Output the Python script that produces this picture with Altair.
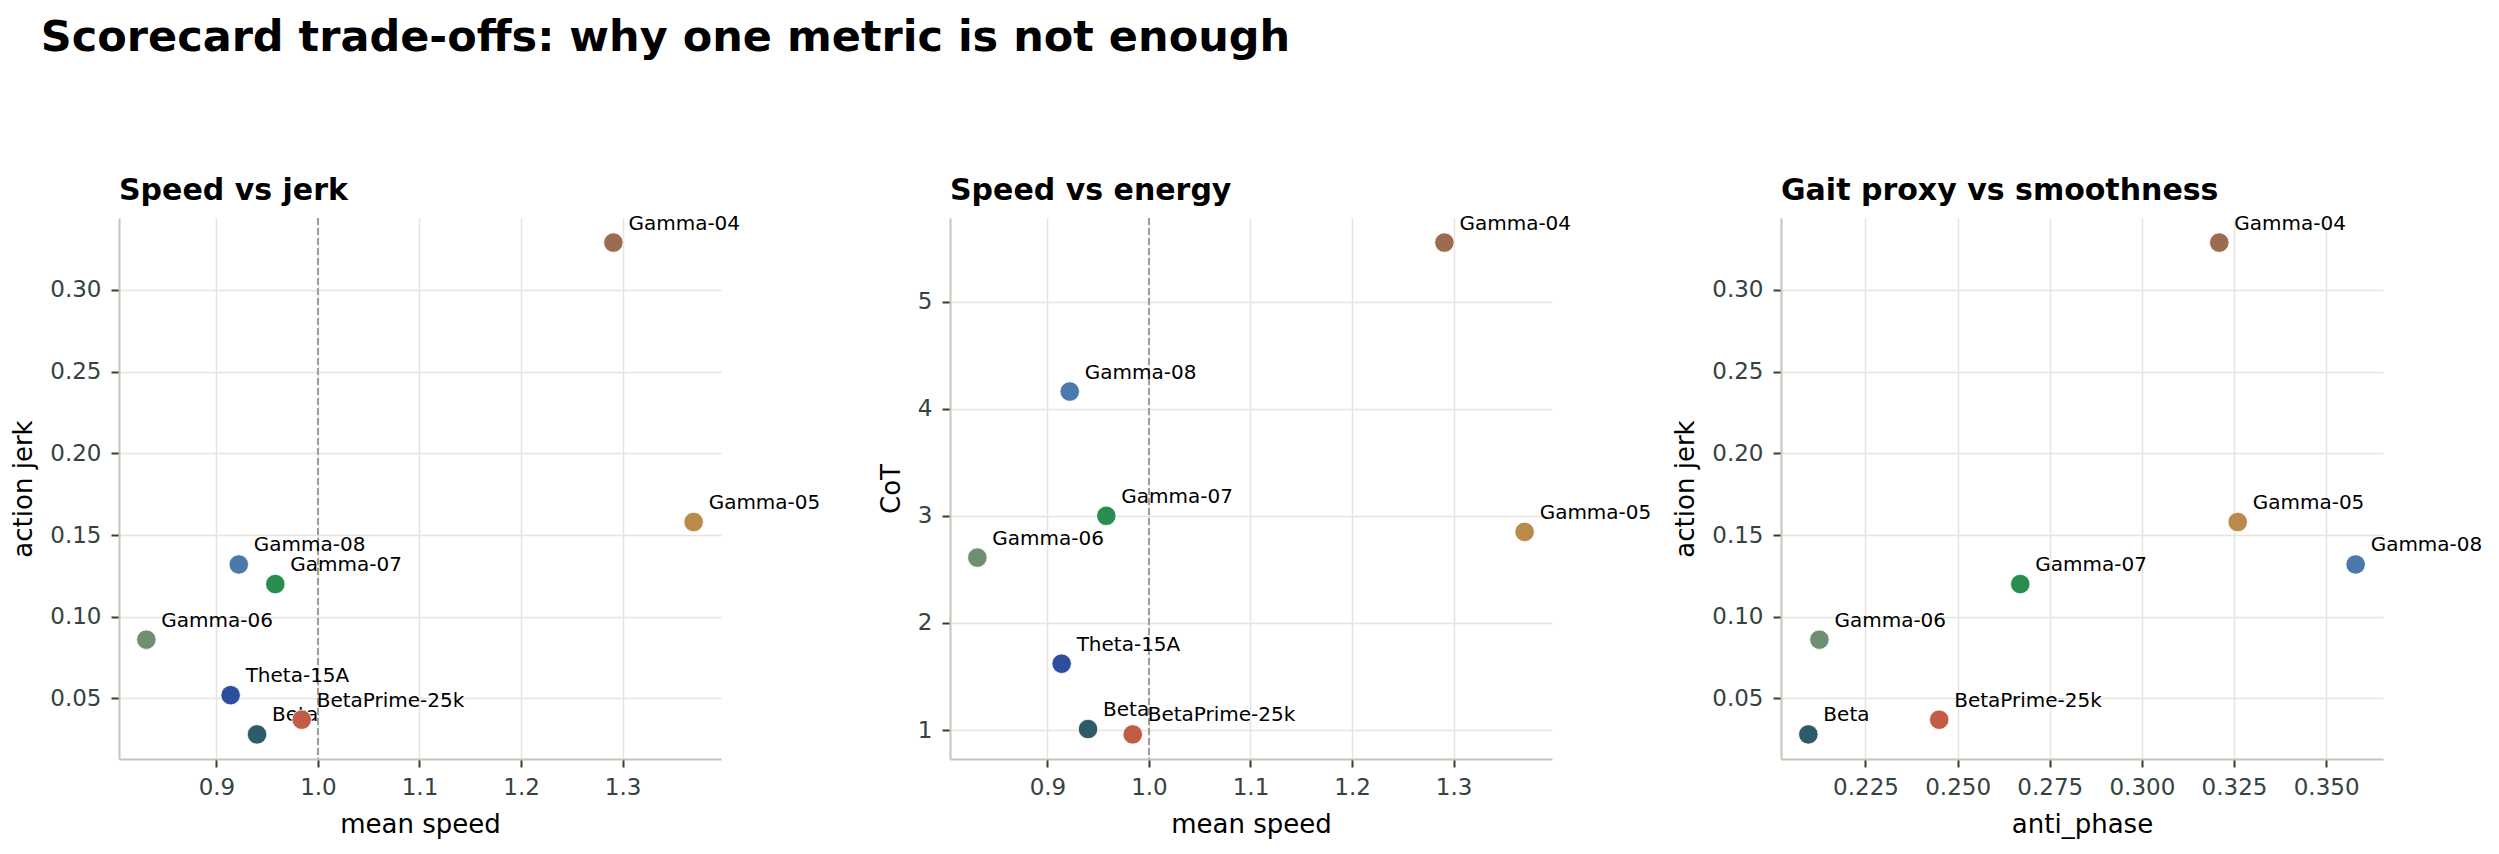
import altair as alt
import pandas as pd

# Per-policy scorecard metrics
names = ["Gamma-04", "Gamma-05", "Gamma-08", "Gamma-07", "Gamma-06",
         "Theta-15A", "BetaPrime-25k", "Beta"]
mean_speed = [1.291, 1.370, 0.922, 0.958, 0.831, 0.914, 0.984, 0.940]
action_jerk = [0.329, 0.158, 0.132, 0.120, 0.086, 0.052, 0.037, 0.028]
cot = [5.55, 2.85, 4.16, 3.00, 2.61, 1.62, 0.96, 1.01]
anti_phase = [0.321, 0.326, 0.358, 0.267, 0.2125, None, 0.245, 0.2095]
colors = ["#9b6b52", "#b98a4a", "#4b79a9", "#2b8c50", "#6f8e72",
          "#2c4e9d", "#c05c47", "#2d5b69"]

df = pd.DataFrame({
    "name": names,
    "mean_speed": mean_speed,
    "action_jerk": action_jerk,
    "CoT": cot,
    "anti_phase": anti_phase,
})

FONT = "DejaVu Sans"
PW, PH = 602, 541


def padded(vals, frac=0.05):
    v = [a for a in vals if a is not None]
    lo, hi = min(v), max(v)
    m = (hi - lo) * frac
    return [lo - m, hi + m]


def panel(title, xf, xtitle, xvals, xticks, xfmt, yf, ytitle, yvals, yticks, yfmt, ref=None):
    x = alt.X(f"{xf}:Q", title=xtitle,
              scale=alt.Scale(domain=padded(xvals), nice=False, zero=False),
              axis=alt.Axis(values=xticks, format=xfmt))
    y = alt.Y(f"{yf}:Q", title=ytitle,
              scale=alt.Scale(domain=padded(yvals), nice=False, zero=False),
              axis=alt.Axis(values=yticks, format=yfmt))
    base = alt.Chart(df).transform_filter(f"isValid(datum.{xf}) && isValid(datum.{yf})")
    layers = []
    if ref is not None:
        layers.append(
            alt.Chart(pd.DataFrame({xf: [ref]}))
            .mark_rule(color="#9a9f9d", strokeDash=[7, 3], strokeWidth=2)
            .encode(x=x)
        )
    layers.append(
        base.mark_text(align="left", baseline="alphabetic", dx=15, dy=-13,
                       fontSize=20, font=FONT, color="black")
        .encode(x=x, y=y, text="name:N")
    )
    layers.append(
        base.mark_circle(size=380, opacity=1, stroke="white", strokeWidth=0.8)
        .encode(x=x, y=y,
                color=alt.Color("name:N", scale=alt.Scale(domain=names, range=colors),
                                legend=None))
    )
    return alt.layer(*layers).properties(
        width=PW, height=PH,
        title=alt.TitleParams(title, anchor="start", frame="group", fontSize=30, font=FONT,
                              fontWeight="bold", color="black", offset=8),
    )


p1 = panel("Speed vs jerk", "mean_speed", "mean speed", mean_speed,
           [0.9, 1.0, 1.1, 1.2, 1.3], ".1f",
           "action_jerk", "action jerk", action_jerk,
           [0.05, 0.10, 0.15, 0.20, 0.25, 0.30], ".2f", ref=1.0)
p2 = panel("Speed vs energy", "mean_speed", "mean speed", mean_speed,
           [0.9, 1.0, 1.1, 1.2, 1.3], ".1f",
           "CoT", "CoT", cot,
           [1, 2, 3, 4, 5], "d", ref=1.0)
p3 = panel("Gait proxy vs smoothness", "anti_phase", "anti_phase", anti_phase,
           [0.225, 0.250, 0.275, 0.300, 0.325, 0.350], ".3f",
           "action_jerk", "action jerk", action_jerk,
           [0.05, 0.10, 0.15, 0.20, 0.25, 0.30], ".2f")

chart = (
    alt.hconcat(p1, p2, p3, spacing=229, bounds="flush")
    .properties(
        title=alt.TitleParams("Scorecard trade-offs: why one metric is not enough",
                              anchor="start", fontSize=43, font=FONT, fontWeight="bold",
                              color="black", offset=116, dx=30),
        padding={"left": 10, "top": 16, "right": 5, "bottom": 5},
        background="white",
    )
    .configure_view(stroke=None)
    .configure_axis(
        labelFont=FONT, titleFont=FONT,
        labelFontSize=23, titleFontSize=26,
        labelColor="#34433f", titleColor="black", titleFontWeight="normal",
        domainColor="#cbc4b6", domainWidth=2,
        tickColor="#2f403d", tickWidth=2, tickSize=8,
        gridColor="#e8e4da", gridWidth=1.5,
        labelPadding=9, titlePadding=12,
    )
    .configure_axisY(labelPadding=10, titlePadding=13)
)

chart.save("out.html", embed_options={"renderer": "svg", "actions": False})
